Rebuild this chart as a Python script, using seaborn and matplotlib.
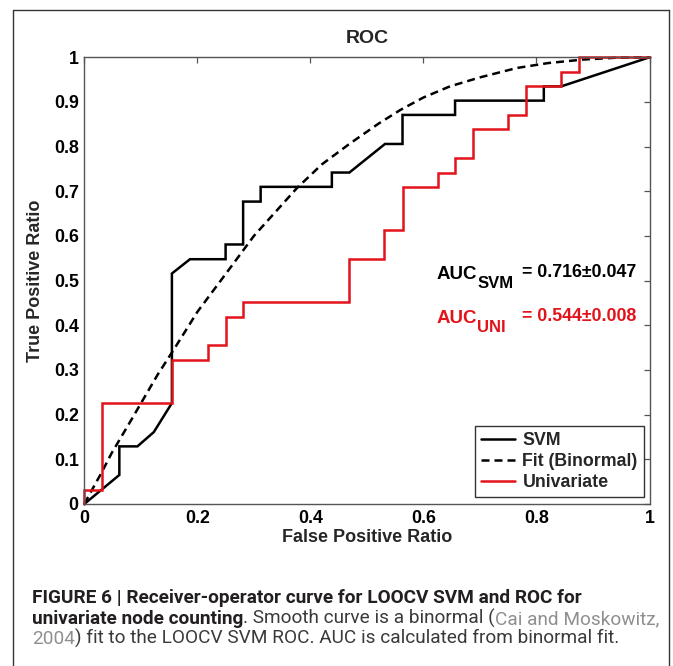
import matplotlib
matplotlib.use("Agg")
import numpy as np
import pandas as pd
import seaborn as sns
import matplotlib.pyplot as plt
from matplotlib import font_manager as fm
from matplotlib.lines import Line2D

# ---------------- data ----------------
svm_fpr = [0, 0.062, 0.062, 0.094, 0.123, 0.155, 0.155, 0.187, 0.25, 0.25, 0.281, 0.281,
           0.312, 0.312, 0.438, 0.438, 0.469, 0.532, 0.563, 0.563, 0.656, 0.656, 0.813,
           0.813, 0.844, 1.0]
svm_tpr = [0, 0.065, 0.129, 0.129, 0.161, 0.226, 0.516, 0.548, 0.548, 0.581, 0.581, 0.677,
           0.677, 0.710, 0.710, 0.742, 0.742, 0.806, 0.806, 0.871, 0.871, 0.903, 0.903,
           0.935, 0.935, 1.0]

fit_fpr = [0, 0.012, 0.03, 0.048, 0.083, 0.1, 0.13, 0.159, 0.2, 0.249, 0.3, 0.376, 0.42,
           0.47, 0.52, 0.559, 0.6, 0.647, 0.7, 0.765, 0.82, 0.883, 0.94, 1.0]
fit_tpr = [0, 0.028, 0.069, 0.113, 0.188, 0.225, 0.29, 0.347, 0.43, 0.513, 0.60, 0.707, 0.76,
           0.807, 0.851, 0.882, 0.91, 0.935, 0.955, 0.976, 0.987, 0.995, 0.999, 1.0]

uni_fpr = [0, 0, 0.031, 0.031, 0.156, 0.156, 0.219, 0.219, 0.25, 0.25, 0.281, 0.281, 0.469,
           0.469, 0.531, 0.531, 0.563, 0.563, 0.625, 0.625, 0.656, 0.656, 0.688, 0.688,
           0.75, 0.75, 0.781, 0.781, 0.844, 0.844, 0.875, 0.875, 1.0]
uni_tpr = [0, 0.032, 0.032, 0.226, 0.226, 0.323, 0.323, 0.355, 0.355, 0.419, 0.419, 0.452,
           0.452, 0.548, 0.548, 0.613, 0.613, 0.710, 0.710, 0.742, 0.742, 0.774, 0.774,
           0.839, 0.839, 0.871, 0.871, 0.935, 0.935, 0.968, 0.968, 1.0, 1.0]

series_labels = ["SVM", "Fit (Binormal)", "Univariate"]
tick_values = [0, 0.2, 0.4, 0.6, 0.8, 1]
tick_labels = ["0", "0.2", "0.4", "0.6", "0.8", "1"]
ytick_values = [0, 0.1, 0.2, 0.3, 0.4, 0.5, 0.6, 0.7, 0.8, 0.9, 1]
ytick_labels = ["0", "0.1", "0.2", "0.3", "0.4", "0.5", "0.6", "0.7", "0.8", "0.9", "1"]
auc_svm = "= 0.716\u00b10.047"
auc_uni = "= 0.544\u00b10.008"

# ---------------- style ----------------
sns.set_theme(style="white")
plt.rcParams["font.family"] = ["Liberation Sans", "DejaVu Sans"]
names = {f.name for f in fm.fontManager.ttflist}
cap_font = "Liberation Sans Narrow" if "Liberation Sans Narrow" in names else "Roboto"

RED = "#e3131b"
AX_GRAY = "#555555"

fig = plt.figure(figsize=(6.73, 6.66), dpi=100)
ax = fig.add_axes([84.3 / 673, 1 - 504 / 666, 565.2 / 673, 446.7 / 666])

df_svm = pd.DataFrame({"fpr": svm_fpr, "tpr": svm_tpr})
df_fit = pd.DataFrame({"fpr": fit_fpr, "tpr": fit_tpr})
df_uni = pd.DataFrame({"fpr": uni_fpr, "tpr": uni_tpr})

LW = 1.8
sns.lineplot(data=df_svm, x="fpr", y="tpr", sort=False, estimator=None, color="black",
             lw=LW, ax=ax, label=series_labels[0])
sns.lineplot(data=df_fit, x="fpr", y="tpr", sort=False, estimator=None, color="black",
             lw=LW, ax=ax, label=series_labels[1])
ax.lines[-1].set_dashes((3.2, 2.0))
sns.lineplot(data=df_uni, x="fpr", y="tpr", sort=False, estimator=None, color=RED,
             lw=LW, ax=ax, label=series_labels[2])
for ln in ax.lines:
    ln.set_solid_joinstyle("miter")
    ln.set_clip_on(False)

ax.set_xlim(0, 1)
ax.set_ylim(0, 1)
ax.set_xticks(tick_values)
ax.set_xticklabels(tick_labels)
ax.set_yticks(ytick_values)
ax.set_yticklabels(ytick_labels)
ax.tick_params(direction="in", length=4, width=0.9, color=AX_GRAY, top=True, right=True,
               labelsize=12.8, pad=4, labelcolor="black")
for lab in ax.get_xticklabels() + ax.get_yticklabels():
    lab.set_fontweight("bold")
for sp in ax.spines.values():
    sp.set_visible(True)
    sp.set_color(AX_GRAY)
    sp.set_linewidth(1.0)

ax.set_title("ROC", fontsize=14, fontweight="bold", pad=10)
ax.set_xlabel("False Positive Ratio", fontsize=13, fontweight="bold", labelpad=2)
ax.set_ylabel("True Positive Ratio", fontsize=13, fontweight="bold", labelpad=7)

leg = ax.legend(loc="lower right", bbox_to_anchor=(0.990, 0.0157), frameon=True,
                fancybox=False, edgecolor="#333333", framealpha=1,
                prop={"weight": "bold", "size": 12.8}, handlelength=1.9,
                handletextpad=0.4, labelspacing=0.22, borderpad=0.35, borderaxespad=0)
leg.get_frame().set_linewidth(1.0)

# AUC annotations
def auc_label(x, y, sub, value, color, dx_val, dy_val):
    t = ax.text(x, y, "AUC", fontsize=13.5, fontweight="bold", color=color,
                ha="left", va="baseline", transform=ax.transData)
    ax.annotate(sub, xy=(1, 0), xycoords=t, xytext=(0.0, -5.5), textcoords="offset points",
                fontsize=12, fontweight="bold", color=color, ha="left", va="bottom",
                annotation_clip=False)
    ax.text(dx_val, dy_val, value, fontsize=12.8, fontweight="bold", color=color,
            ha="left", va="baseline")

auc_label(0.624, 0.503, "SVM", auc_svm, "black", 0.774, 0.509)
auc_label(0.624, 0.4045, "UNI", auc_uni, RED, 0.774, 0.410)

# figure frame
fr = dict(color="#333333", lw=1.0, transform=fig.transFigure)
fig.add_artist(Line2D([13 / 673, 13 / 673], [0, 1 - 10 / 666], **fr))
fig.add_artist(Line2D([13 / 673, 669 / 673], [1 - 10 / 666, 1 - 10 / 666], **fr))
fig.add_artist(Line2D([669 / 673, 669 / 673], [0, 1 - 10 / 666], **fr))

# caption
DARK = "#231f20"
TXT = "#3a3a3a"
LINK = "#8f8f8f"
line1 = [("FIGURE 6 | Receiver-operator curve for LOOCV SVM and ROC for", "bold", DARK)]
line2 = [("univariate node counting", "bold", DARK),
         (". Smooth curve is a binormal (", "normal", TXT),
         ("Cai and Moskowitz,", "normal", LINK)]
line3 = [("2004", "normal", LINK),
         (") fit to the LOOCV SVM ROC. AUC is calculated from binormal fit.", "normal", TXT)]

fig.canvas.draw()
renderer = fig.canvas.get_renderer()
probe = fig.text(0, 0, line1[0][0], fontsize=12, fontweight="bold", family=cap_font)
w = probe.get_window_extent(renderer).width
probe.remove()
cap_size = 12 * 549 / w

def caption_line(parts, y_px):
    prev = None
    for txt, weight, color in parts:
        if prev is None:
            prev = fig.text(32 / 673, 1 - y_px / 666, txt, fontsize=cap_size,
                            fontweight=weight, color=color, family=cap_font,
                            ha="left", va="bottom")
        else:
            prev = ax.annotate(txt, xy=(1, 0), xycoords=prev, xytext=(0, 0),
                               textcoords="offset points", fontsize=cap_size,
                               fontweight=weight, color=color, family=cap_font,
                               ha="left", va="bottom", annotation_clip=False)

caption_line(line1, 607)
caption_line(line2, 628)
caption_line(line3, 648)

fig.savefig("out.png", dpi=100)
